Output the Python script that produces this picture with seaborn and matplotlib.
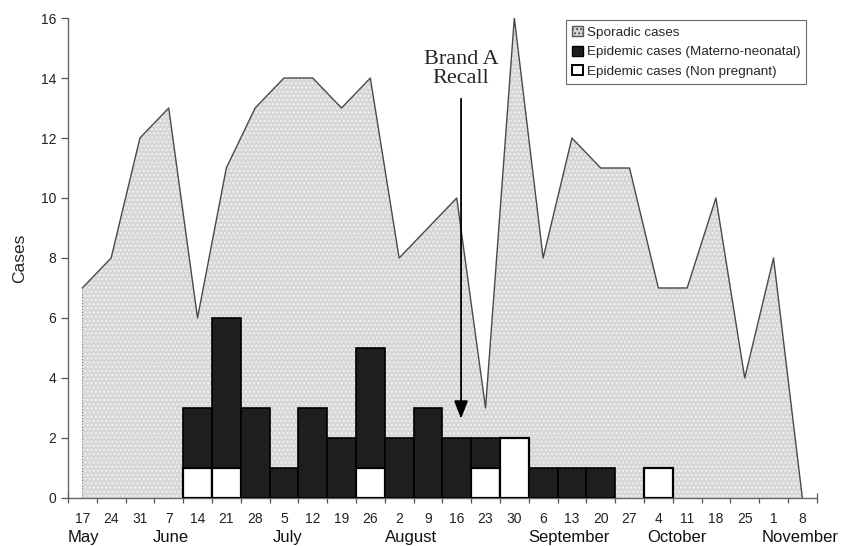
import matplotlib
matplotlib.use("Agg")
import matplotlib.pyplot as plt
import matplotlib.patches as mpatches
import seaborn as sns
import pandas as pd
import numpy as np

days = ["17", "24", "31", "7", "14", "21", "28", "5", "12", "19", "26", "2", "9",
        "16", "23", "30", "6", "13", "20", "27", "4", "11", "18", "25", "1", "8"]
sporadic = [7, 8, 12, 13, 6, 11, 13, 14, 14, 13, 14, 8, 9,
            10, 3, 16, 8, 12, 11, 11, 7, 7, 10, 4, 8, 0]
materno = [0, 0, 0, 0, 2, 5, 3, 1, 3, 2, 4, 2, 3,
           2, 1, 0, 1, 1, 1, 0, 0, 0, 0, 0, 0, 0]
nonpreg = [0, 0, 0, 0, 1, 1, 0, 0, 0, 0, 1, 0, 0,
           0, 1, 2, 0, 0, 0, 0, 1, 0, 0, 0, 0, 0]
months = ["May", "June", "July", "August", "September", "October", "November"]
month_x = [-0.5, 2.45, 6.6, 10.5, 15.5, 19.6, 23.6]  # left edge of month labels
yticks = [0, 2, 4, 6, 8, 10, 12, 14, 16]

sns.set_theme(style="white")
plt.rcParams["font.family"] = ["Liberation Sans", "DejaVu Sans"]

df = pd.DataFrame({"week": days, "sporadic": sporadic, "materno": materno,
                   "nonpreg": nonpreg})
df["pos"] = np.arange(len(days))

fig = plt.figure(figsize=(8.49, 5.46), dpi=100)
ax = fig.add_axes([0.080, 0.088, 0.882, 0.879])

# sporadic area
ax.fill_between(df["pos"], 0, df["sporadic"], facecolor="#d6d6d6",
                edgecolor="#f2f2f2", hatch="....", linewidth=0, zorder=1)
sns.lineplot(data=df, x="pos", y="sporadic", color="#4a4a4a", linewidth=1.0,
             ax=ax, zorder=2)
ax.plot([0, 0], [0, sporadic[0]], color="#777777", lw=0.8, ls=":", zorder=2)

# stacked bars
sns.barplot(data=df, x="pos", y="nonpreg", color="white",
            edgecolor="black", linewidth=1.6, width=1.0, ax=ax, zorder=3,
            native_scale=True)
sns.barplot(data=df, x="pos", y="materno", color="#1e1e1e",
            edgecolor="black", linewidth=1.2, width=1.0, ax=ax, zorder=3,
            bottom=df["nonpreg"], native_scale=True, saturation=1)
for p in ax.patches:
    if isinstance(p, mpatches.Rectangle) and p.get_height() == 0:
        p.set_visible(False)

ax.set_xlim(-0.5, len(days) - 0.5)
ax.set_ylim(0, 16)
ax.set_yticks(yticks)
ax.set_yticklabels([str(v) for v in yticks], fontsize=10)
ax.set_xticks(df["pos"])
ax.set_xticklabels(days, fontsize=10)
ax.set_xticks(np.arange(-0.5, len(days)), minor=True)
ax.tick_params(axis="x", which="major", length=0, pad=10, colors="#222222")
ax.tick_params(axis="x", which="minor", length=7, width=0.9, direction="inout",
               color="#555555", bottom=True)
ax.tick_params(axis="y", length=5, width=0.9, direction="out", color="#555555",
               left=True, colors="#222222")
ax.set_xlabel("")
ax.set_ylabel("Cases", fontsize=12.5, labelpad=10)
for s in ["top", "right"]:
    ax.spines[s].set_visible(False)
for s in ["left", "bottom"]:
    ax.spines[s].set_color("#666666")
    ax.spines[s].set_linewidth(1.0)

for m, mx in zip(months, month_x):
    ax.text(mx, -1.08, m, fontsize=12, ha="left", va="top", color="#111111")

# annotation
ax.annotate("", xy=(13.15, 2.55), xytext=(13.15, 13.4),
            arrowprops=dict(arrowstyle="-|>,head_length=0.9,head_width=0.35",
                            color="black", lw=1.3), zorder=5)
ax.text(13.15, 14.3, "Brand A\nRecall", ha="center", va="center",
        fontsize=16, family="Liberation Serif", linespacing=0.95, zorder=5)

handles = [mpatches.Patch(facecolor="#d6d6d6", edgecolor="#555555", hatch="...."),
           mpatches.Patch(facecolor="#1e1e1e", edgecolor="black"),
           mpatches.Patch(facecolor="white", edgecolor="black", linewidth=1.4)]
labels = ["Sporadic cases", "Epidemic cases (Materno-neonatal)",
          "Epidemic cases (Non pregnant)"]
leg = ax.legend(handles, labels, loc="upper right", bbox_to_anchor=(0.995, 1.01),
                fontsize=9.7, frameon=True, fancybox=False, handlelength=0.8,
                handleheight=0.8, handletextpad=0.3, borderpad=0.45,
                labelspacing=0.5, edgecolor="#444444")
leg.get_frame().set_linewidth(0.8)

fig.savefig("out.png", dpi=100)
